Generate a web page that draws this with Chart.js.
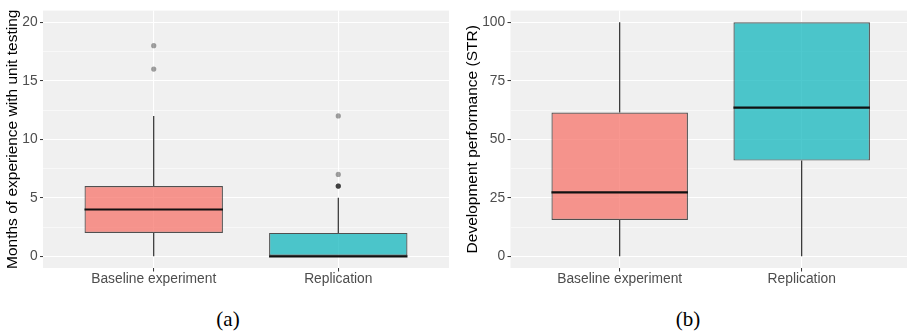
<!DOCTYPE html>
<html><head><meta charset="utf-8">
<script src="https://cdn.jsdelivr.net/npm/chart.js@4"></script>
<style>
html,body{margin:0;padding:0;background:#fff}
body{width:907px;height:335px;overflow:hidden;position:relative}
#c1{position:absolute;left:0;top:0}
#c2{position:absolute;left:453px;top:0}
.cap{position:absolute;top:309px;width:60px;text-align:center;font-family:"Liberation Serif",serif;font-size:21px;line-height:21px;color:#000}
</style>
</head><body>
<canvas id="c1" width="453" height="290"></canvas>
<canvas id="c2" width="454" height="290"></canvas>
<div class="cap" style="left:198px">(a)</div>
<div class="cap" style="left:658px">(b)</div>
<script>
// ---- data ----
const categories = ['Baseline experiment', 'Replication'];
// panel (a): months of experience with unit testing
const expLow = [0, 0];
const expQ1 = [2, 0];
const expMedian = [4, 0];
const expQ3 = [6, 2];
const expHigh = [12, 5];
const expOutliers = [[16, 18], [6, 6, 6, 7, 12]];
const expMajorTicks = [0, 5, 10, 15, 20];
const expMinorTicks = [2.5, 7.5, 12.5, 17.5];
// panel (b): development performance (STR)
const strLow = [0, 0];
const strQ1 = [15.5, 40.9];
const strMedian = [27.3, 63.5];
const strQ3 = [61.4, 100];
const strHigh = [100, 100];
const strOutliers = [[], []];
const strMajorTicks = [0, 25, 50, 75, 100];
const strMinorTicks = [12.5, 37.5, 62.5, 87.5];

const fillColors = ['rgba(246,111,101,0.72)', 'rgba(11,180,187,0.72)'];

const panelBg = {
  id: 'panelBg',
  beforeDraw(chart) {
    const {ctx, chartArea: a} = chart;
    ctx.save();
    ctx.fillStyle = '#F0F0F0';
    ctx.fillRect(a.left, a.top, a.right - a.left, a.bottom - a.top);
    ctx.restore();
  }
};

function makeBox(canvasId, cfg) {
  const boxData = categories.map((c, i) => ({x: i + 1, y: [cfg.q1[i], cfg.q3[i]]}));
  const whiskers = [];
  categories.forEach((c, i) => {
    whiskers.push({x: i + 1, y: cfg.q3[i]}, {x: i + 1, y: cfg.high[i]}, {x: i + 1, y: null});
    whiskers.push({x: i + 1, y: cfg.low[i]}, {x: i + 1, y: cfg.q1[i]}, {x: i + 1, y: null});
  });
  const medians = [];
  categories.forEach((c, i) => {
    medians.push({x: i + 1 - 0.375, y: cfg.median[i]}, {x: i + 1 + 0.375, y: cfg.median[i]}, {x: i + 1, y: null});
  });
  const outs = [];
  cfg.outliers.forEach((arr, i) => arr.forEach(v => outs.push({x: i + 1, y: v})));
  const majors = cfg.major;
  const isMajor = v => majors.some(m => Math.abs(m - v) < 1e-9);

  return new Chart(document.getElementById(canvasId), {
    type: 'bar',
    data: {
      datasets: [
        {
          type: 'scatter', data: outs, order: 0,
          pointRadius: 2.6, pointBorderWidth: 0,
          pointBackgroundColor: 'rgba(0,0,0,0.36)', borderColor: 'rgba(0,0,0,0)'
        },
        {
          type: 'line', data: medians, order: 1, spanGaps: false,
          borderColor: '#111111', borderWidth: 2.2, pointRadius: 0, fill: false, tension: 0
        },
        {
          type: 'line', data: whiskers, order: 2, spanGaps: false,
          borderColor: '#1a1a1a', borderWidth: 1.1, pointRadius: 0, fill: false, tension: 0
        },
        {
          type: 'bar', data: boxData, order: 3,
          backgroundColor: fillColors, borderColor: 'rgba(40,40,40,0.8)', borderWidth: 1.2,
          borderSkipped: false, categoryPercentage: 1, barPercentage: 0.75
        }
      ]
    },
    options: {
      responsive: false, animation: false, devicePixelRatio: 1,
      layout: {padding: {top: 7, right: cfg.padRight, bottom: 0, left: 0}},
      plugins: {legend: {display: false}, tooltip: {enabled: false}},
      scales: {
        x: {
          type: 'linear', min: 0.4, max: cfg.xMax, offset: false,
          afterBuildTicks: s => { s.ticks = [{value: 1}, {value: 2}]; },
          afterFit: s => { s.height = 22; },
          ticks: {
            autoSkip: false, maxRotation: 0, padding: -1,
            color: '#4D4D4D', font: {family: 'Liberation Sans', size: 13.8},
            callback: v => categories[Math.round(v) - 1]
          },
          grid: {offset: false, color: '#FFFFFF', lineWidth: 1.1, tickLength: 3.5, tickColor: '#333333', tickWidth: 1},
          border: {display: false}
        },
        y: {
          type: 'linear', min: cfg.yMin, max: cfg.yMax,
          afterBuildTicks: s => {
            s.ticks = cfg.major.concat(cfg.minor).sort((a, b) => a - b).map(v => ({value: v}));
          },
          afterFit: s => { s.width = cfg.axisWidth; },
          ticks: {
            autoSkip: false, padding: 2.3,
            color: '#4D4D4D', font: {family: 'Liberation Sans', size: 13.8},
            callback: v => isMajor(v) ? String(v) : ''
          },
          grid: {
            color: '#FFFFFF',
            lineWidth: ctx => (ctx.tick && isMajor(ctx.tick.value)) ? 1.1 : 0.55,
            tickLength: 3,
            tickColor: ctx => (ctx.tick && isMajor(ctx.tick.value)) ? '#333333' : 'rgba(0,0,0,0)',
            tickWidth: 1
          },
          border: {display: false},
          title: {
            display: true, text: cfg.title, color: '#000000',
            font: {family: 'Liberation Sans', size: 15.5},
            padding: {top: cfg.titlePad, bottom: 0}
          }
        }
      }
    },
    plugins: [panelBg]
  });
}

makeBox('c1', {
  low: expLow, q1: expQ1, median: expMedian, q3: expQ3, high: expHigh, outliers: expOutliers,
  major: expMajorTicks, minor: expMinorTicks, yMin: -1, yMax: 21,
  title: 'Months of experience with unit testing',
  axisWidth: 43, titlePad: 3.7, padRight: 2, xMax: 2.6
});
makeBox('c2', {
  low: strLow, q1: strQ1, median: strMedian, q3: strQ3, high: strHigh, outliers: strOutliers,
  major: strMajorTicks, minor: strMinorTicks, yMin: -5, yMax: 105,
  title: 'Development performance (STR)',
  axisWidth: 57.5, titlePad: 10.7, padRight: 0, xMax: 2.5786
});
</script>
</body></html>
